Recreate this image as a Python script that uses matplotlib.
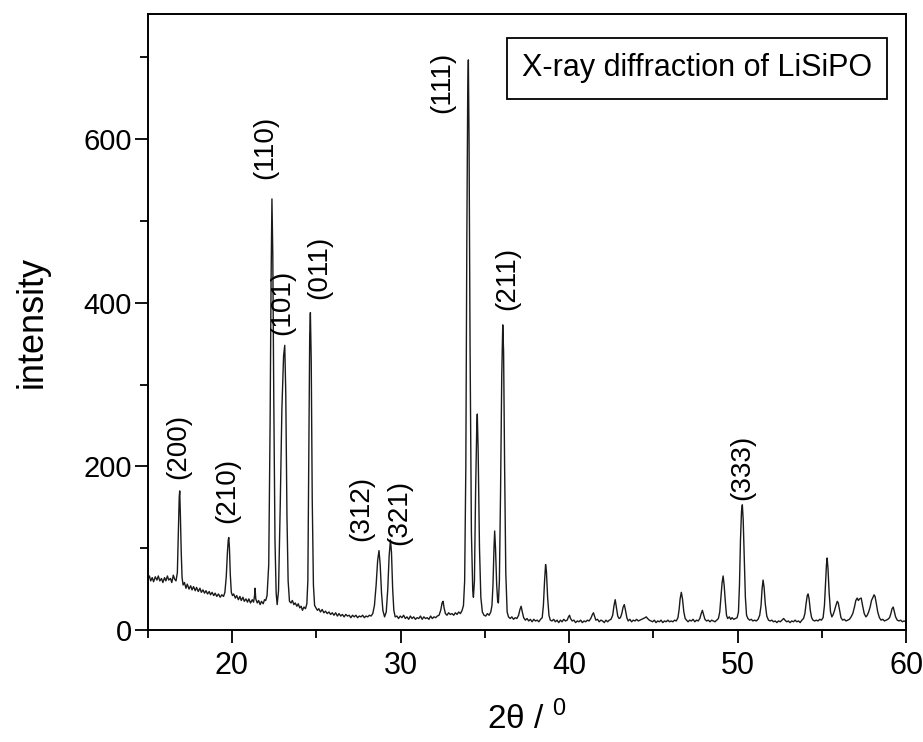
import matplotlib
matplotlib.use("Agg")
import numpy as np
import matplotlib.pyplot as plt
from matplotlib.patches import Rectangle
from matplotlib.ticker import MultipleLocator

plt.rcParams['font.family'] = ['Liberation Sans', 'DejaVu Sans']
plt.rcParams['mathtext.fontset'] = 'custom'
plt.rcParams['mathtext.rm'] = 'Liberation Sans'

# diffraction trace: (2theta, intensity) vertices
trace = [
    (15.00, 62), (15.10, 66), (15.18, 60), (15.27, 64), (15.35, 59), (15.45, 65), (15.55, 61), (15.63, 66),
    (15.72, 60), (15.82, 63), (15.90, 58), (16.00, 64), (16.08, 60), (16.17, 66), (16.25, 61), (16.35, 63),
    (16.43, 58), (16.52, 67), (16.60, 62), (16.68, 60),
    (16.76, 70), (16.82, 120), (16.87, 162), (16.90, 170), (16.94, 140), (16.99, 95), (17.04, 64), (17.10, 55),
    (17.18, 58), (17.27, 51), (17.35, 56), (17.45, 50), (17.55, 54), (17.63, 49), (17.72, 53), (17.82, 48),
    (17.90, 52), (18.00, 47), (18.10, 51), (18.18, 46), (18.28, 49), (18.37, 45), (18.46, 48), (18.55, 44),
    (18.65, 47), (18.73, 43), (18.82, 46), (18.92, 42), (19.00, 45), (19.10, 41), (19.20, 44), (19.30, 40),
    (19.40, 43), (19.50, 41), (19.58, 46),
    (19.66, 65), (19.73, 95), (19.78, 110), (19.81, 113), (19.85, 100), (19.90, 68), (19.96, 46), (20.03, 42),
    (20.10, 44), (20.20, 39), (20.28, 42), (20.38, 37), (20.47, 41), (20.55, 36), (20.65, 40), (20.73, 35),
    (20.83, 38), (20.92, 34), (21.00, 38), (21.10, 33), (21.20, 37), (21.28, 34), (21.34, 42), (21.37, 51),
    (21.41, 38), (21.50, 33), (21.58, 36), (21.67, 31), (21.75, 35), (21.85, 32), (21.93, 37), (22.00, 36),
    (22.08, 42),
    (22.18, 80), (22.26, 250), (22.32, 430), (22.37, 527), (22.42, 460), (22.48, 280), (22.55, 110), (22.62, 45),
    (22.68, 31),
    (22.76, 48), (22.86, 150), (22.96, 270), (23.06, 335), (23.13, 348), (23.19, 290), (23.26, 140), (23.33, 60),
    (23.41, 35),
    (23.50, 33), (23.58, 36), (23.67, 31), (23.75, 33), (23.85, 29), (23.93, 32), (24.02, 27), (24.10, 29),
    (24.18, 24), (24.27, 28), (24.36, 26), (24.44, 32),
    (24.50, 60), (24.56, 220), (24.61, 360), (24.65, 388), (24.70, 330), (24.76, 160), (24.83, 55), (24.90, 30),
    (24.98, 27), (25.07, 24), (25.15, 26), (25.25, 22), (25.35, 25), (25.45, 21), (25.55, 23), (25.65, 20),
    (25.75, 22), (25.85, 19), (25.95, 21), (26.05, 18), (26.15, 21), (26.25, 17), (26.35, 20), (26.45, 17),
    (26.55, 19), (26.65, 16), (26.75, 19), (26.85, 17), (26.95, 18), (27.05, 15), (27.15, 18), (27.25, 16),
    (27.35, 18), (27.45, 15), (27.55, 17), (27.65, 16), (27.75, 18), (27.85, 15), (27.95, 17), (28.05, 16),
    (28.15, 18), (28.25, 17), (28.35, 20),
    (28.45, 30), (28.55, 55), (28.64, 85), (28.72, 97), (28.79, 80), (28.87, 45), (28.95, 24), (29.05, 16),
    (29.15, 22), (29.24, 50), (29.32, 90), (29.40, 110), (29.46, 95), (29.53, 50), (29.60, 24), (29.68, 16),
    (29.78, 17), (29.88, 14), (29.98, 17), (30.08, 15), (30.18, 18), (30.28, 14), (30.38, 16), (30.48, 13),
    (30.58, 17), (30.68, 14), (30.78, 16), (30.88, 13), (30.98, 15), (31.08, 14), (31.18, 17), (31.28, 13),
    (31.38, 16), (31.48, 14), (31.58, 15), (31.68, 13), (31.78, 17), (31.88, 14), (31.98, 16), (32.08, 15),
    (32.18, 17), (32.28, 18), (32.38, 24), (32.46, 33), (32.52, 35), (32.58, 27), (32.66, 20), (32.75, 18),
    (32.85, 21), (32.95, 19), (33.05, 20), (33.15, 18), (33.25, 21), (33.35, 19), (33.45, 22), (33.55, 20),
    (33.65, 24), (33.73, 30),
    (33.80, 60), (33.87, 200), (33.93, 480), (33.98, 650), (34.02, 697), (34.06, 600), (34.12, 350), (34.20, 120),
    (34.28, 48), (34.32, 40),
    (34.38, 60), (34.45, 170), (34.52, 250), (34.55, 264), (34.60, 220), (34.68, 100), (34.76, 40), (34.85, 22),
    (34.95, 18), (35.05, 17), (35.15, 20), (35.25, 18), (35.35, 22), (35.42, 30),
    (35.48, 55), (35.54, 100), (35.58, 121), (35.63, 100), (35.70, 55), (35.76, 35), (35.80, 33),
    (35.86, 60), (35.93, 170), (36.00, 310), (36.06, 373), (36.11, 340), (36.17, 200), (36.24, 70), (36.32, 22),
    (36.40, 16), (36.50, 14), (36.60, 16), (36.70, 13), (36.80, 15), (36.90, 14), (37.00, 18), (37.08, 25),
    (37.15, 29), (37.22, 22), (37.30, 15), (37.40, 12), (37.50, 14), (37.60, 11), (37.70, 13), (37.80, 10),
    (37.90, 13), (38.00, 11), (38.10, 12), (38.20, 10), (38.30, 13), (38.40, 15),
    (38.47, 30), (38.54, 60), (38.60, 80), (38.65, 72), (38.72, 40), (38.80, 18), (38.88, 12),
    (38.98, 11), (39.08, 13), (39.18, 10), (39.28, 12), (39.38, 9), (39.48, 12), (39.58, 10), (39.68, 13),
    (39.78, 11), (39.88, 12), (39.96, 16), (40.02, 18), (40.08, 14), (40.18, 11), (40.28, 12), (40.38, 9),
    (40.48, 11), (40.58, 10), (40.68, 12), (40.78, 9), (40.88, 11), (40.98, 10), (41.08, 12), (41.18, 11),
    (41.28, 14), (41.38, 19), (41.44, 21), (41.50, 17), (41.58, 12), (41.68, 13), (41.78, 10), (41.88, 12),
    (41.98, 11), (42.08, 9), (42.18, 12), (42.28, 10), (42.38, 12), (42.48, 13), (42.58, 18), (42.66, 30),
    (42.73, 37), (42.80, 28), (42.88, 17), (42.96, 14), (43.04, 15), (43.12, 20), (43.20, 28), (43.27, 31),
    (43.34, 24), (43.42, 15), (43.50, 11), (43.60, 13), (43.70, 10), (43.80, 12), (43.90, 11), (44.00, 13),
    (44.10, 11), (44.20, 12), (44.30, 13), (44.40, 14), (44.50, 15), (44.57, 16), (44.65, 14), (44.75, 12),
    (44.85, 11), (44.95, 10), (45.05, 12), (45.15, 9), (45.25, 11), (45.35, 10), (45.45, 12), (45.55, 9),
    (45.65, 11), (45.75, 10), (45.85, 12), (45.95, 10), (46.05, 11), (46.15, 10), (46.25, 12), (46.35, 11),
    (46.45, 15), (46.52, 25), (46.58, 38), (46.65, 46), (46.72, 38), (46.80, 22), (46.88, 14), (46.96, 12),
    (47.05, 10), (47.15, 12), (47.25, 11), (47.35, 13), (47.45, 10), (47.55, 12), (47.65, 11), (47.75, 14),
    (47.83, 20), (47.90, 24), (47.97, 19), (48.05, 13), (48.15, 11), (48.25, 12), (48.35, 10), (48.45, 12),
    (48.55, 11), (48.65, 10), (48.75, 12), (48.85, 14), (48.93, 22), (49.00, 40), (49.07, 58), (49.13, 66),
    (49.19, 55), (49.26, 35), (49.33, 18), (49.40, 14), (49.50, 16), (49.58, 13), (49.66, 15), (49.76, 13),
    (49.86, 14), (49.96, 15), (50.04, 22), (50.10, 55), (50.16, 110), (50.22, 145), (50.27, 153), (50.32, 135),
    (50.38, 90), (50.45, 40), (50.52, 18), (50.60, 14), (50.70, 12), (50.80, 13), (50.90, 11), (51.00, 12),
    (51.10, 11), (51.20, 13), (51.30, 18), (51.38, 30), (51.44, 50), (51.50, 61), (51.56, 52), (51.63, 32),
    (51.72, 17), (51.82, 12), (51.92, 11), (52.02, 12), (52.12, 10), (52.22, 11), (52.32, 9), (52.42, 11),
    (52.52, 10), (52.62, 12), (52.72, 14), (52.80, 12), (52.90, 10), (53.00, 11), (53.10, 9), (53.20, 11),
    (53.30, 10), (53.40, 12), (53.50, 10), (53.60, 11), (53.70, 9), (53.80, 12), (53.90, 14), (53.98, 20),
    (54.05, 32), (54.12, 42), (54.17, 44), (54.23, 38), (54.30, 24), (54.38, 15), (54.46, 12), (54.56, 11),
    (54.66, 12), (54.76, 11), (54.86, 13), (54.96, 12), (55.06, 15), (55.14, 30), (55.20, 55), (55.26, 80),
    (55.30, 88), (55.35, 75), (55.42, 45), (55.50, 22), (55.58, 16), (55.66, 19), (55.74, 24), (55.82, 30),
    (55.90, 35), (55.96, 33), (56.04, 24), (56.12, 15), (56.22, 12), (56.32, 13), (56.42, 11), (56.52, 12),
    (56.62, 13), (56.72, 16), (56.82, 20), (56.92, 28), (57.00, 36), (57.08, 39), (57.15, 36), (57.22, 38),
    (57.32, 39), (57.40, 30), (57.50, 20), (57.60, 16), (57.68, 18), (57.76, 22), (57.85, 28), (57.93, 36),
    (58.02, 40), (58.08, 43), (58.14, 41), (58.22, 32), (58.30, 22), (58.40, 15), (58.50, 12), (58.60, 13),
    (58.70, 11), (58.80, 12), (58.90, 13), (59.00, 15), (59.08, 20), (59.15, 26), (59.22, 28), (59.28, 23),
    (59.36, 16), (59.46, 12), (59.56, 11), (59.66, 12), (59.76, 10), (59.86, 11), (59.96, 10), (60.00, 11),
]

# peak labels: text, 2theta, intensity of label centre
peak_labels = ['(200)', '(210)', '(110)', '(101)', '(011)', '(312)', '(321)', '(111)', '(211)', '(333)']
label_x = [16.84, 19.73, 21.95, 22.96, 25.15, 27.65, 29.90, 32.46, 36.30, 50.27]
label_y = [224, 171, 590, 401, 443, 148, 144, 670, 430, 199]

two_theta = np.array([p[0] for p in trace])
intensity = np.array([p[1] for p in trace])

fig = plt.figure(figsize=(9.23, 7.42), dpi=100)
ax = fig.add_axes([0.160, 0.151, 0.822, 0.830])

ax.plot(two_theta, intensity, color='#1a1a1a', lw=1.0)

for t, x, y in zip(peak_labels, label_x, label_y):
    ax.text(x, y, t, rotation=90, ha='center', va='center', fontsize=20)

ax.set_xlim(15, 60)
ax.set_ylim(0, 753)
ax.xaxis.set_major_locator(MultipleLocator(10))
ax.xaxis.set_minor_locator(MultipleLocator(5))
ax.yaxis.set_major_locator(MultipleLocator(200))
ax.yaxis.set_minor_locator(MultipleLocator(100))
ax.tick_params(which='both', direction='out', top=False, right=False, width=1.3)
ax.tick_params(which='major', length=9.5)
ax.tick_params(which='minor', length=5.5)
ax.tick_params(axis='y', labelsize=21, pad=2)
ax.tick_params(axis='x', labelsize=22, pad=6)
for s in ax.spines.values():
    s.set_linewidth(1.4)

ax.set_ylabel('intensity', fontsize=26, labelpad=24)
ax.set_xlabel('2θ / $^{0}$', fontsize=24, labelpad=14)

# title box in the upper right corner
ax.add_patch(Rectangle((0.474, 0.862), 0.50, 0.099, transform=ax.transAxes,
                       fill=False, edgecolor='black', lw=1.3))
ax.text(0.724, 0.912, 'X-ray diffraction of LiSiPO', transform=ax.transAxes,
        ha='center', va='center', fontsize=22)

fig.savefig('out.png', dpi=100)
